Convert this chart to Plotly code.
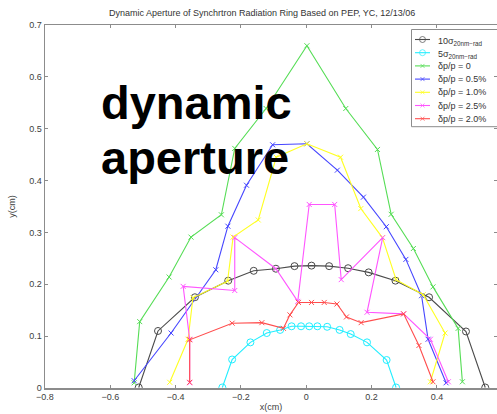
import plotly.graph_objects as go

# ---- data (cm) ----
sig10_x = [-0.513, -0.454, -0.341, -0.239, -0.161, -0.093, -0.036, 0.016, 0.070, 0.128, 0.191, 0.273, 0.376, 0.489, 0.548]
sig10_y = [0.001, 0.110, 0.175, 0.207, 0.226, 0.230, 0.235, 0.236, 0.235, 0.231, 0.223, 0.207, 0.175, 0.109, 0.001]

sig5_x = [-0.257, -0.227, -0.171, -0.121, -0.080, -0.045, -0.016, 0.009, 0.034, 0.064, 0.102, 0.136, 0.186, 0.246, 0.275]
sig5_y = [0.001, 0.055, 0.088, 0.106, 0.112, 0.119, 0.119, 0.119, 0.119, 0.118, 0.112, 0.104, 0.088, 0.054, 0.001]

dp0_x = [-0.527, -0.510, -0.420, -0.353, -0.260, -0.219, -0.123, 0.002, 0.121, 0.218, 0.260, 0.328, 0.388, 0.465, 0.478]
dp0_y = [0.010, 0.128, 0.214, 0.291, 0.334, 0.462, 0.539, 0.660, 0.539, 0.460, 0.335, 0.269, 0.195, 0.115, 0.012]

dp05_x = [-0.527, -0.414, -0.277, -0.240, -0.183, -0.103, 0.002, 0.095, 0.175, 0.245, 0.305, 0.353, 0.373, 0.428]
dp05_y = [0.014, 0.106, 0.228, 0.312, 0.391, 0.469, 0.471, 0.420, 0.368, 0.311, 0.248, 0.178, 0.094, 0.010]

dp10_x = [-0.418, -0.362, -0.347, -0.241, -0.224, -0.147, -0.092, 0.002, 0.105, 0.167, 0.233, 0.275, 0.358, 0.425, 0.380]
dp10_y = [0.011, 0.094, 0.174, 0.206, 0.291, 0.324, 0.445, 0.471, 0.445, 0.346, 0.290, 0.209, 0.180, 0.106, 0.012]

dp25_x = [-0.357, -0.357, -0.377, -0.219, -0.219, -0.093, -0.026, 0.009, 0.087, 0.107, 0.234, 0.186, 0.298, 0.380, 0.435]
dp25_y = [0.010, 0.094, 0.196, 0.188, 0.290, 0.230, 0.167, 0.354, 0.354, 0.209, 0.290, 0.146, 0.143, 0.094, 0.012]

dp20_x = [-0.357, -0.357, -0.227, -0.136, -0.070, -0.050, -0.024, 0.016, 0.055, 0.094, 0.123, 0.168, 0.298, 0.345, 0.388]
dp20_y = [0.011, 0.093, 0.125, 0.126, 0.115, 0.141, 0.165, 0.165, 0.165, 0.162, 0.137, 0.126, 0.143, 0.082, 0.012]

x_ticks = [-0.8, -0.6, -0.4, -0.2, 0, 0.2, 0.4]
x_tick_text = ["\u22120.8", "\u22120.6", "\u22120.4", "\u22120.2", "0", "0.2", "0.4"]
y_ticks = [0, 0.1, 0.2, 0.3, 0.4, 0.5, 0.6, 0.7]
y_tick_text = ["0", "0.1", "0.2", "0.3", "0.4", "0.5", "0.6", "0.7"]

legend_labels = ["10\u03c3<sub>20nm\u2212rad</sub>", "5\u03c3<sub>20nm\u2212rad</sub>",
                 "\u03b4p/p = 0", "\u03b4p/p = 0.5%", "\u03b4p/p = 1.0%",
                 "\u03b4p/p = 2.5%", "\u03b4p/p = 2.0%"]

series = [
    (sig10_x, sig10_y, "#4a4a4a", "circle-open", 7),
    (sig5_x, sig5_y, "#22eeff", "circle-open", 7),
    (dp0_x, dp0_y, "#55dd55", "x-thin-open", 5),
    (dp05_x, dp05_y, "#4646ff", "x-thin-open", 5),
    (dp10_x, dp10_y, "#ffff22", "x-thin-open", 5),
    (dp25_x, dp25_y, "#ff55ff", "x-thin-open", 5),
    (dp20_x, dp20_y, "#ff4d4d", "x-thin-open", 5),
]

W, H = 497, 414
ml, mr, mt, mb = 45, 0, 25, 26
pw = W - ml - mr
ph = H - mt - mb
FONT = "Liberation Sans, Arial, sans-serif"

fig = go.Figure()
for (xs, ys, col, sym, sz), name in zip(series, legend_labels):
    fig.add_trace(go.Scatter(
        x=xs, y=ys, name=name, mode="lines+markers", showlegend=False,
        line=dict(color=col, width=1.1),
        marker=dict(symbol=sym, size=sz, color=col, line=dict(color=col, width=1)),
    ))

# ---- hand-made legend (pixel-like overlay axis) ----
leg_left, leg_top, row0, row_step = 411.5, 29.5, 39.5, 13.2
annotations = []
for i, ((xs, ys, col, sym, sz), name) in enumerate(zip(series, legend_labels)):
    ry = row0 + i * row_step
    fig.add_trace(go.Scatter(
        x=[415, 422.5, 430], y=[ry, ry, ry], xaxis="x2", yaxis="y2",
        mode="lines+markers", showlegend=False, hoverinfo="skip",
        line=dict(color=col, width=1.1),
        marker=dict(symbol=sym, size=[0, sz - 1, 0], color=col, line=dict(color=col, width=1)),
    ))
    annotations.append(dict(
        text=name, xref="x2", yref="y2", x=436, y=ry + (1.5 if i < 2 else 0),
        xanchor="left", yanchor="middle", showarrow=False,
        font=dict(family=FONT, size=9, color="#333333")))

axis_common = dict(
    showgrid=False, zeroline=False, showline=True, linecolor="#8c8c8c", linewidth=1.5,
    ticks="inside", ticklen=3, tickcolor="#8c8c8c", mirror="ticks",
    tickfont=dict(family=FONT, size=9, color="#404040"),
)

annotations += [
    dict(text="Dynamic Aperture of Synchrtron Radiation Ring Based on PEP, YC, 12/13/06",
         xref="paper", yref="paper", x=(262 - ml) / pw, y=1 + (25 - 13) / ph,
         xanchor="center", yanchor="middle", showarrow=False,
         font=dict(family=FONT, size=9, color="#333333")),
    dict(text="<b>dynamic</b>", xref="paper", yref="paper",
         x=(99 - ml) / pw, y=1 - (103 - mt) / ph, xanchor="left", yanchor="middle",
         showarrow=False, font=dict(family=FONT, size=47, color="black")),
    dict(text="<b>aperture</b>", xref="paper", yref="paper",
         x=(99 - ml) / pw, y=1 - (157 - mt) / ph, xanchor="left", yanchor="middle",
         showarrow=False, font=dict(family=FONT, size=47, color="black")),
]

fig.update_layout(
    width=W, height=H,
    margin=dict(l=ml, r=mr, t=mt, b=mb, autoexpand=False),
    paper_bgcolor="white", plot_bgcolor="white",
    showlegend=False,
    xaxis=dict(range=[-0.8, 0.584], tickvals=x_ticks, ticktext=x_tick_text,
               title=dict(text="x(cm)", font=dict(family=FONT, size=9, color="#404040"), standoff=2),
               automargin=False, **axis_common),
    yaxis=dict(range=[0, 0.7], tickvals=y_ticks, ticktext=y_tick_text,
               title=dict(text="y(cm)", font=dict(family=FONT, size=9, color="#404040"), standoff=12),
               automargin=False, **axis_common),
    xaxis2=dict(overlaying="x", anchor="y2", range=[ml, W], visible=False, fixedrange=True),
    yaxis2=dict(overlaying="y", anchor="x2", range=[H - mb, mt], visible=False, fixedrange=True),
    shapes=[dict(type="rect", xref="x2", yref="y2", x0=leg_left, x1=W + 5, y0=leg_top, y1=row0 + 6 * row_step + 8,
                 line=dict(color="#8c8c8c", width=1), fillcolor="white", layer="below")],
    annotations=annotations,
)

fig.write_html("out.html",
               config={"displayModeBar": False, "staticPlot": True},
               post_script="document.body.style.margin='0px';document.body.style.overflow='hidden';")
